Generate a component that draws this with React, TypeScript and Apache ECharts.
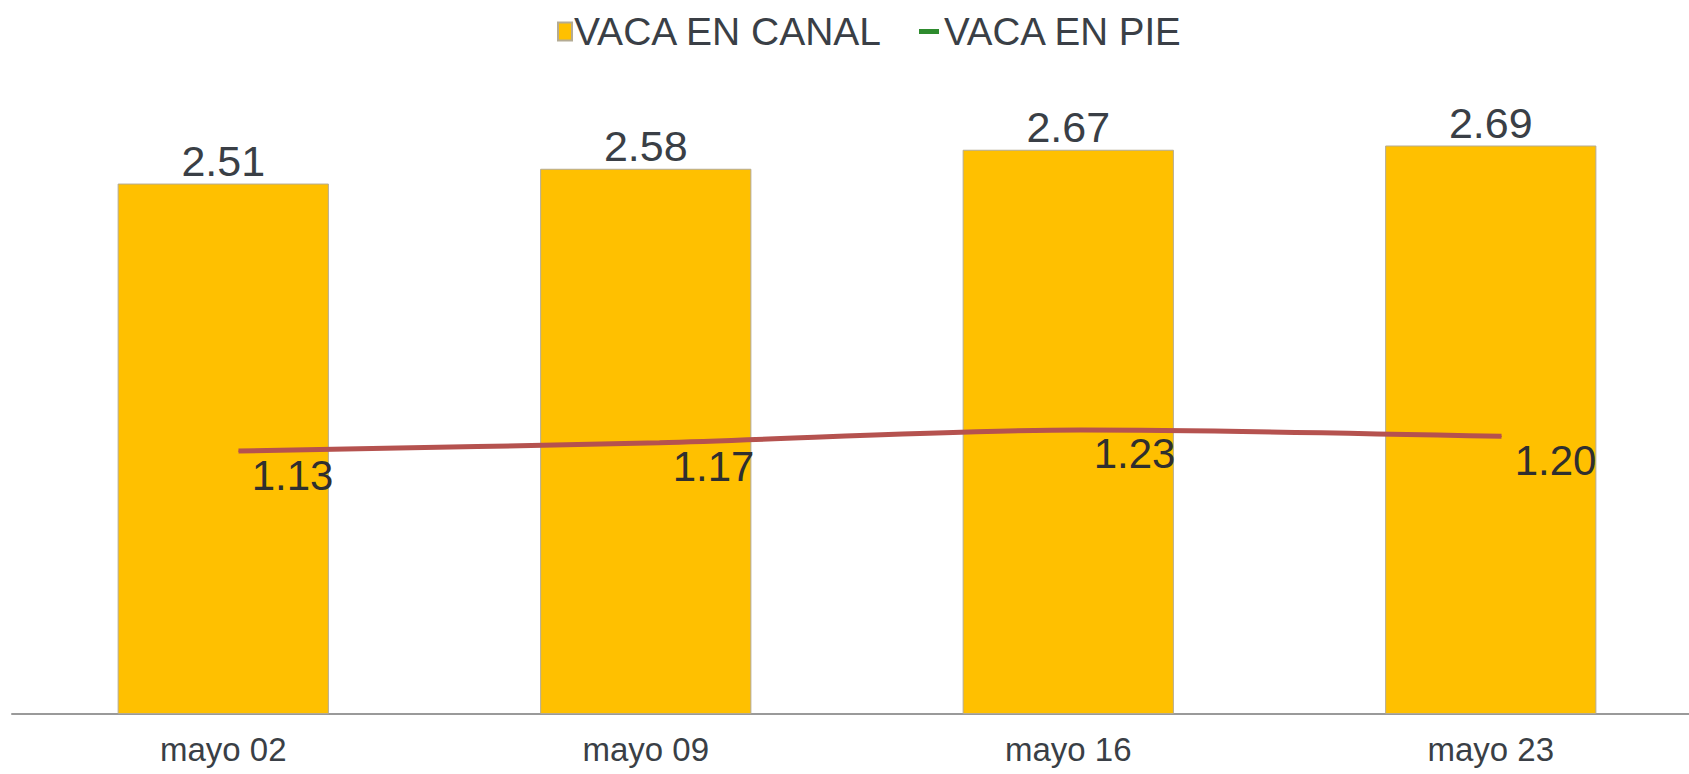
import React, { useEffect, useRef } from "react";
import * as echarts from "echarts";

const categories = ["mayo 02", "mayo 09", "mayo 16", "mayo 23"];
const vacaEnCanal = [2.51, 2.58, 2.67, 2.69];
const vacaEnPie = [1.13, 1.17, 1.23, 1.2];
const seriesNames = ["VACA EN CANAL", "VACA EN PIE"];

const FONT = "'Liberation Sans', Arial, sans-serif";

export default function App() {
  const ref = useRef<HTMLDivElement>(null);
  useEffect(() => {
    if (!ref.current) return;
    const chart = echarts.init(ref.current, null, { renderer: "svg" });
    chart.setOption({
      animation: false,
      backgroundColor: "#ffffff",
      textStyle: { fontFamily: FONT },
      legend: [
        {
          data: [seriesNames[0]],
          left: 557,
          top: 12,
          padding: 0,
          itemWidth: 14,
          itemHeight: 18,
          icon: "rect",
          textStyle: { fontSize: 39, color: "#3a3f46", fontFamily: FONT, padding: [0, 0, 0, -3] },
        },
        {
          data: [{ name: seriesNames[1], itemStyle: { color: "#2e8b2e" } }],
          left: 919,
          top: 12,
          padding: 0,
          itemWidth: 20,
          itemHeight: 5,
          icon: "rect",
          textStyle: { fontSize: 38.5, color: "#3a3f46", fontFamily: FONT, padding: [0, 0, 0, 0] },
        },
      ],
      grid: [
        { left: 12, right: 10, top: 80, bottom: 60 },
        { left: 28, right: 0, top: 80, bottom: 60 },
      ],
      xAxis: [
        {
          type: "category",
          gridIndex: 0,
          data: categories,
          axisLine: { lineStyle: { color: "#9a9a9a", width: 2 } },
          axisTick: { show: false },
          axisLabel: { fontSize: 33, color: "#3a3f46", margin: 19, fontFamily: FONT },
        },
        {
          type: "category",
          gridIndex: 1,
          data: categories,
          show: false,
        },
      ],
      yAxis: [
        { type: "value", gridIndex: 0, min: 0, max: 3, show: false, splitLine: { show: false } },
        { type: "value", gridIndex: 1, min: -0.114, max: 2.886, show: false, splitLine: { show: false } },
      ],
      series: [
        {
          name: seriesNames[0],
          type: "bar",
          xAxisIndex: 0,
          yAxisIndex: 0,
          data: vacaEnCanal,
          barWidth: "50%",
          itemStyle: { color: "#FFC000", borderColor: "#b4ab94", borderWidth: 1 },
          label: {
            show: true,
            position: "top",
            distance: 1,
            fontSize: 43,
            color: "#3a3f46",
            fontFamily: FONT,
            formatter: (p: any) => p.value.toFixed(2),
          },
        },
        {
          name: seriesNames[1],
          type: "line",
          xAxisIndex: 1,
          yAxisIndex: 1,
          data: vacaEnPie,
          smooth: 0.3,
          symbol: "circle",
          symbolSize: 1,
          lineStyle: { color: "#b5524f", width: 5 },
          itemStyle: { color: "#b5524f" },
          label: {
            show: true,
            position: "inside",
            offset: [54, 24],
            fontSize: 42,
            color: "#2f2f2f",
            fontFamily: FONT,
            formatter: (p: any) => p.value.toFixed(2),
          },
          z: 5,
        },
      ],
    });
    return () => chart.dispose();
  }, []);
  return (
    <div
      style={{
        position: "absolute",
        left: 0,
        top: 0,
        width: 1689,
        height: 774,
        overflow: "hidden",
        background: "#ffffff",
      }}
    >
      <div ref={ref} style={{ width: 1712, height: 774 }} />
    </div>
  );
}
